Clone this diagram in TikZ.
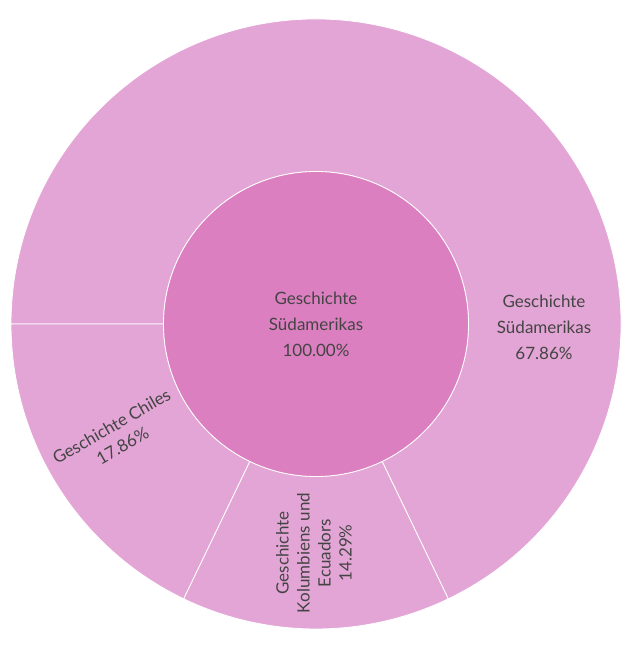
\documentclass[tikz,border=0pt]{standalone}
\usepackage{fontspec}
\setmainfont{Lato}
\definecolor{inner}{RGB}{219,127,192}
\definecolor{outer}{RGB}{227,165,213}
\definecolor{txt}{RGB}{68,68,68}
\begin{document}
\begin{tikzpicture}[x=1pt,y=1pt,
  seg/.style={draw=white,line width=0.8pt},
  lbl/.style={text=txt,font=\fontsize{17}{26}\selectfont,align=center,inner sep=1pt}]
\useasboundingbox (0,0) rectangle (643,-648);
\coordinate (c) at (316,-324);
\def\R{305}\def\r{152.5}
\fill[seg,fill=outer] ([shift={(295.7:\r)}]c) -- ([shift={(295.7:\R)}]c) arc[start angle=295.7,end angle=540,radius=\R] -- ([shift={(180:\r)}]c) arc[start angle=180,end angle=-64.3,radius=\r] -- cycle;
\fill[seg,fill=outer] ([shift={(180:\r)}]c) -- ([shift={(180:\R)}]c) arc[start angle=180,end angle=244.3,radius=\R] -- ([shift={(244.3:\r)}]c) arc[start angle=244.3,end angle=180,radius=\r] -- cycle;
\fill[seg,fill=outer] ([shift={(244.3:\r)}]c) -- ([shift={(244.3:\R)}]c) arc[start angle=244.3,end angle=295.7,radius=\R] -- ([shift={(295.7:\r)}]c) arc[start angle=295.7,end angle=244.3,radius=\r] -- cycle;
\draw[seg,fill=inner] (c) circle[radius=\r];
\node[lbl] (n0) at (c) {Geschichte\\Südamerikas\\100.00\%};
\node[lbl] (n1) at (544,-327) {Geschichte\\Südamerikas\\67.86\%};
\node[lbl,rotate=30,font=\fontsize{17}{22}\selectfont] (n2) at (117,-436) {Geschichte Chiles\\17.86\%};
\node[lbl,rotate=90,font=\fontsize{17}{21}\selectfont] (n3) at (314,-553) {Geschichte\\Kolumbiens und\\Ecuadors\\14.29\%};
\end{tikzpicture}
\end{document}
